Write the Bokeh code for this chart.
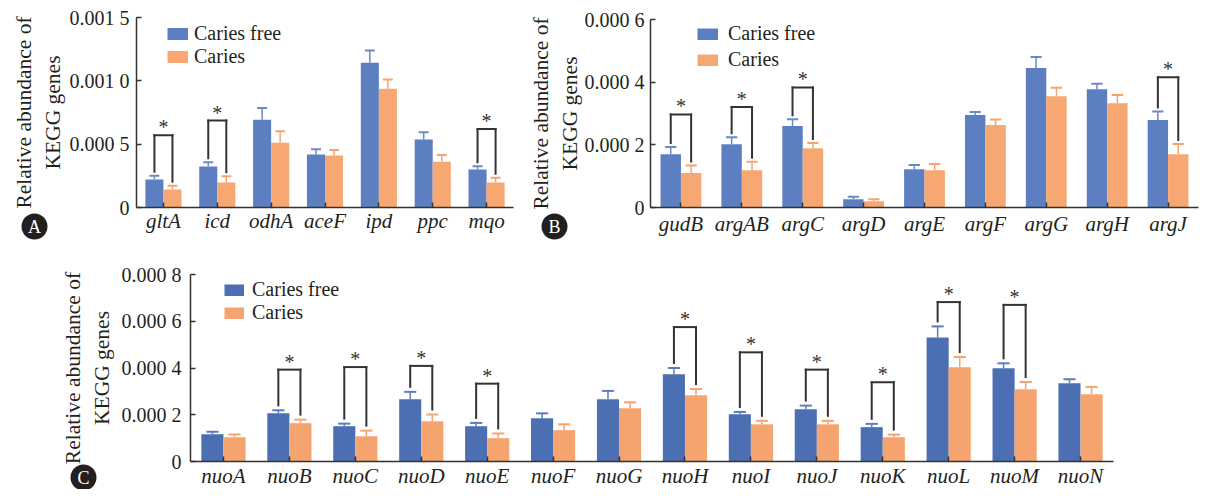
from bokeh.plotting import figure
from bokeh.models import (ColumnDataSource, Range1d, FixedTicker, Legend, LegendItem)
from bokeh.transform import dodge
from bokeh.layouts import row, column
from bokeh.embed import file_html
from bokeh.resources import INLINE
from bokeh.core.properties import value

# ---------------- data ----------------
series_names = ["Caries free", "Caries"]
y_title = "Relative abundance of\nKEGG genes"

# Panel A
a_genes = ["gltA", "icd", "odhA", "aceF", "ipd", "ppc", "mqo"]
a_free = [0.000221, 0.000323, 0.000693, 0.000418, 0.001143, 0.000536, 0.000300]
a_free_sem = [0.000029, 0.000034, 0.000092, 0.000042, 0.000097, 0.000058, 0.000026]
a_car = [0.000142, 0.000197, 0.000512, 0.000410, 0.000938, 0.000362, 0.000197]
a_car_sem = [0.000029, 0.000050, 0.000089, 0.000044, 0.000072, 0.000053, 0.000037]
a_sig = ["gltA", "icd", "mqo"]
a_sig_top = [0.000570, 0.000686, 0.000620]
a_yticks = [0, 0.0005, 0.001, 0.0015]
a_ylabels = ["0", "0.000 5", "0.001 0", "0.001 5"]

# Panel B
b_genes = ["gudB", "argAB", "argC", "argD", "argE", "argF", "argG", "argH", "argJ"]
b_free = [0.000170, 0.000202, 0.000260, 0.0000266, 0.000122, 0.000295, 0.000445, 0.000377, 0.000279]
b_free_sem = [0.000023, 0.000022, 0.000022, 0.0000074, 0.000014, 0.000010, 0.000035, 0.000018, 0.000027]
b_car = [0.000110, 0.000119, 0.000189, 0.000020, 0.000119, 0.000263, 0.000355, 0.000333, 0.000170]
b_car_sem = [0.000024, 0.000027, 0.000017, 0.0000066, 0.000020, 0.000018, 0.000027, 0.000026, 0.000033]
b_sig = ["gudB", "argAB", "argC", "argJ"]
b_sig_top = [0.000297, 0.000321, 0.000383, 0.000416]
b_yticks = [0, 0.0002, 0.0004, 0.0006]
b_ylabels = ["0", "0.000 2", "0.000 4", "0.000 6"]

# Panel C
c_genes = ["nuoA", "nuoB", "nuoC", "nuoD", "nuoE", "nuoF", "nuoG",
           "nuoH", "nuoI", "nuoJ", "nuoK", "nuoL", "nuoM", "nuoN"]
c_free = [0.000117, 0.000206, 0.000151, 0.000266, 0.000151, 0.000185, 0.000266,
          0.000373, 0.000202, 0.000223, 0.000147, 0.000531, 0.000399, 0.000335]
c_free_sem = [0.000010, 0.000013, 0.000011, 0.000032, 0.000014, 0.000021, 0.000036,
              0.000027, 0.000010, 0.000016, 0.000014, 0.000047, 0.000021, 0.000017]
c_car = [0.000104, 0.000164, 0.000108, 0.000172, 0.000100, 0.000134, 0.000228,
         0.000283, 0.000159, 0.000159, 0.000104, 0.000403, 0.000309, 0.000288]
c_car_sem = [0.000011, 0.000015, 0.000024, 0.000029, 0.000020, 0.000025, 0.000025,
             0.000027, 0.000015, 0.000015, 0.000011, 0.000044, 0.000031, 0.000031]
c_sig = ["nuoB", "nuoC", "nuoD", "nuoE", "nuoH", "nuoI", "nuoJ", "nuoK", "nuoL", "nuoM"]
c_sig_top = [0.000393, 0.000404, 0.000409, 0.000333, 0.000575, 0.000467,
             0.000393, 0.000339, 0.000682, 0.000670]
c_yticks = [0, 0.0002, 0.0004, 0.0006, 0.0008]
c_ylabels = ["0", "0.000 2", "0.000 4", "0.000 6", "0.000 8"]

# ---------------- styles ----------------
TXT = "#231f20"
AX = "#333333"
SERIF = "Liberation Serif"
BAR_W = 0.335
NAN = float("nan")


def make_panel(letter, cats, free, free_sem, car, car_sem, sig, sig_top,
               yticks, ylabels, geo, colors, leg):
    # geo: figure size W x H; the axes' box lies L px from the left, R from the
    # right, T from the top and B from the bottom of the figure.
    W, H, L, R, T, B = geo["W"], geo["H"], geo["L"], geo["R"], geo["T"], geo["B"]
    n = len(cats)
    ymax = yticks[-1]
    ppc = (W - L - R) / n          # pixels per category
    upp = ymax / (H - T - B)       # data units per pixel (y)
    blue, orange, blue_e, orange_e = colors

    # the plot frame covers the whole figure; the axes are pinned at x=0 / y=0
    p = figure(x_range=Range1d(-L / ppc, n + R / ppc),
               y_range=Range1d(-B * upp, ymax + T * upp),
               width=W, height=H, min_border=0,
               min_border_left=0, min_border_right=0,
               min_border_top=0, min_border_bottom=0,
               output_backend="svg", toolbar_location=None,
               outline_line_color=None, background_fill_color="white",
               border_fill_color="white")
    p.xgrid.visible = False
    p.ygrid.visible = False

    xs = [i + 0.5 for i in range(n)]
    free_top = [m + s for m, s in zip(free, free_sem)]
    car_top = [m + s for m, s in zip(car, car_sem)]
    src = ColumnDataSource(dict(x=xs, cat=cats, free=free, car=car,
                                free_top=free_top, car_top=car_top))
    off = BAR_W / 2
    p.vbar(x=dodge("x", -off), top="free", bottom=0,
           width=BAR_W, source=src, fill_color=blue, line_color=None)
    p.vbar(x=dodge("x", off), top="car", bottom=0,
           width=BAR_W, source=src, fill_color=orange, line_color=None)

    cap = BAR_W * 0.55
    for o, col, lo, hi in ((-off, blue_e, "free", "free_top"), (off, orange_e, "car", "car_top")):
        p.segment(x0=dodge("x", o), y0=lo, x1=dodge("x", o), y1=hi,
                  source=src, line_color=col, line_width=1.5)
        p.segment(x0=dodge("x", o - cap / 2), y0=hi, x1=dodge("x", o + cap / 2), y1=hi,
                  source=src, line_color=col, line_width=2)

    # significance brackets
    idx = [cats.index(c) for c in sig]
    gap = geo["gap"] * upp
    bsrc = ColumnDataSource(dict(
        x=[xs[i] for i in idx], top=sig_top,
        lb=[free_top[i] + gap for i in idx],
        rb=[car_top[i] + gap for i in idx],
        star_y=[t + 8 * upp for t in sig_top],
        star=["*"] * len(sig)))
    for o, yb in ((-off, "lb"), (off, "rb")):
        p.segment(x0=dodge("x", o), y0=yb, x1=dodge("x", o), y1="top",
                  source=bsrc, line_color=AX, line_width=2, line_cap="square")
    p.segment(x0=dodge("x", -off), y0="top", x1=dodge("x", off), y1="top",
              source=bsrc, line_color=AX, line_width=2, line_cap="square")
    p.text(x="x", y="star_y", text="star", source=bsrc,
           text_font=value(SERIF), text_font_size="20px", text_color=AX,
           text_align="center", text_baseline="alphabetic")

    # axes
    for ax in (p.xaxis, p.yaxis):
        ax.fixed_location = 0
        ax.axis_line_color = AX
        ax.axis_line_width = 1.5
        ax.major_tick_line_color = AX
        ax.major_tick_line_width = 1.5
        ax.major_tick_in = 5
        ax.major_tick_out = 0
        ax.minor_tick_line_color = None
        ax.major_label_text_font = SERIF
        ax.major_label_text_color = TXT
    p.xaxis.bounds = (0, n)
    p.xaxis.ticker = FixedTicker(ticks=xs, minor_ticks=[])
    p.xaxis.major_label_overrides = dict(zip(xs, cats))
    p.xaxis.major_label_text_font_style = "italic"
    p.xaxis.major_label_text_font_size = "21px"
    p.xaxis.major_label_standoff = geo["xstand"]
    p.yaxis.bounds = (0, ymax)
    p.yaxis.ticker = FixedTicker(ticks=yticks, minor_ticks=[])
    p.yaxis.major_label_overrides = dict(zip(yticks, ylabels))
    p.yaxis.major_label_text_font_size = "20px"
    p.yaxis.major_label_standoff = geo["ystand"]
    p.yaxis.axis_label = y_title
    p.yaxis.axis_label_text_font = SERIF
    p.yaxis.axis_label_text_font_style = "normal"
    p.yaxis.axis_label_text_font_size = "21.5px"
    p.yaxis.axis_label_text_color = TXT
    p.yaxis.axis_label_standoff = geo["lstand"]

    # legend (thick line proxies give flat rectangular swatches)
    r1 = p.line([xs[0], xs[0]], [NAN, NAN], line_color=blue, line_width=leg["lw"])
    r2 = p.line([xs[0], xs[0]], [NAN, NAN], line_color=orange, line_width=leg["lw"])
    legend = Legend(items=[LegendItem(label=series_names[0], renderers=[r1]),
                           LegendItem(label=series_names[1], renderers=[r2])],
                    location=leg["loc"], spacing=leg["spacing"],
                    label_standoff=leg["standoff"], glyph_width=leg["gw"],
                    glyph_height=12, padding=0, margin=0,
                    border_line_color=None, background_fill_alpha=0,
                    label_text_font=SERIF, label_text_font_size="20px",
                    label_text_color=TXT)
    p.add_layout(legend)

    # panel letter: black disc with a white letter
    lx, ly = geo["cx"] / ppc, -geo["cy"] * upp
    p.scatter([lx], [ly], marker="circle", size=26, fill_color=TXT, line_color=None)
    p.text([lx], [ly], text=[letter], text_color="white", text_font=value(SERIF),
           text_font_size="18px", text_align="center", text_baseline="middle")
    return p


# cx/cy = letter centre offset (px) from the axes' origin (cx right, cy down)
pa = make_panel("A", a_genes, a_free, a_free_sem, a_car, a_car_sem, a_sig, a_sig_top,
                a_yticks, a_ylabels,
                dict(W=516, H=244, L=136, R=3, T=17, B=37, gap=4, xstand=1, ystand=7,
                     lstand=2, cx=-102, cy=19),
                ("#5b7fc1", "#f7a872", "#6a89c9", "#f5a470"),
                dict(loc=(167, 176), spacing=-2, standoff=6, gw=21, lw=13))
pb = make_panel("B", b_genes, b_free, b_free_sem, b_car, b_car_sem, b_sig, b_sig_top,
                b_yticks, b_ylabels,
                dict(W=684, H=244, L=134, R=2, T=19, B=37, gap=4, xstand=4, ystand=6,
                     lstand=0, cx=-96, cy=19),
                ("#5b7fc1", "#f7a872", "#6a89c9", "#f5a470"),
                dict(loc=(181, 173), spacing=3, standoff=10, gw=21, lw=12))
pc = make_panel("C", c_genes, c_free, c_free_sem, c_car, c_car_sem, c_sig, c_sig_top,
                c_yticks, c_ylabels,
                dict(W=1200, H=245, L=190, R=87, T=30, B=28, gap=5, xstand=2, ystand=9,
                     lstand=5, cx=-107, cy=16),
                ("#4c6fb4", "#f6a46f", "#5b7cc0", "#f5a470"),
                dict(loc=(224, 165), spacing=-1, standoff=8, gw=20, lw=12))

layout = column(row(pa, pb), pc)
open("out.html", "w").write(file_html(layout, INLINE))
